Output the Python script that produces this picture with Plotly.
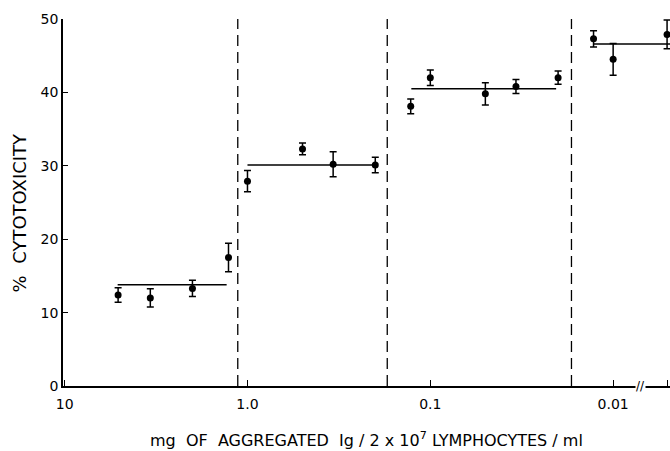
import math
import plotly.graph_objects as go

# ---- data ----
ZERO_POS = 0.00507  # position used for the "0" (no Ig) control on the broken axis

g1_conc = [5.1, 3.4, 2.0, 1.27]
g1_pct = [12.4, 12.0, 13.3, 17.5]
g1_err = [1.0, 1.25, 1.1, 1.95]

g2_conc = [1.0, 0.5, 0.34, 0.2]
g2_pct = [27.9, 32.3, 30.2, 30.1]
g2_err = [1.45, 0.8, 1.7, 1.05]

g3_conc = [0.128, 0.1, 0.05, 0.034, 0.02]
g3_pct = [38.1, 42.0, 39.8, 40.8, 42.0]
g3_err = [1.0, 1.05, 1.5, 0.95, 0.9]

g4_conc = [0.0128, 0.01, ZERO_POS]
g4_pct = [47.3, 44.5, 47.9]
g4_err = [1.1, 2.15, 1.95]

mean_pct = [13.8, 30.1, 40.5, 46.6]
mean_from = [5.13, 1.0, 0.127, 0.0128]
mean_to = [1.30, 0.199, 0.0205, 0.004]

dividers = [1.13, 0.172, 0.0169]

x_tickvals = [10, 1, 0.1, 0.01, ZERO_POS]
x_ticktext = ["10", "1.0", "0.1", "0.01", "0"]
y_tickvals = [0, 10, 20, 30, 40, 50]
BREAK_POS = 0.0071

FONT = "DejaVu Sans"

fig = go.Figure()

for c, p, e in [(g1_conc, g1_pct, g1_err), (g2_conc, g2_pct, g2_err),
                (g3_conc, g3_pct, g3_err), (g4_conc, g4_pct, g4_err)]:
    fig.add_trace(go.Scatter(
        x=c, y=p, mode="markers",
        marker=dict(color="black", size=7),
        error_y=dict(type="data", array=e, visible=True, color="black",
                     thickness=1.5, width=3.5),
        showlegend=False, cliponaxis=False))

for m, a, b in zip(mean_pct, mean_from, mean_to):
    fig.add_trace(go.Scatter(x=[a, b], y=[m, m], mode="lines",
                             line=dict(color="black", width=1.6),
                             showlegend=False))

for d in dividers:
    fig.add_shape(type="line", xref="x", yref="y", x0=d, x1=d, y0=0, y1=50,
                  line=dict(color="black", width=1.3, dash="11px,6px"))

fig.add_annotation(x=math.log10(BREAK_POS), y=0, xref="x", yref="y", text="//",
                   showarrow=False, font=dict(family=FONT, size=12, color="black"),
                   bgcolor="white", borderpad=0)

fig.add_annotation(x=0.5008, y=-0.147, xref="paper", yref="paper",
                   xanchor="center", yanchor="middle", showarrow=False,
                   text="mg  OF  AGGREGATED  Ig / 2 x 10<sup>7</sup> LYMPHOCYTES / ml",
                   font=dict(family=FONT, size=16, color="black"))
fig.add_annotation(x=-0.0725, y=0.473, xref="paper", yref="paper",
                   xanchor="center", yanchor="middle", showarrow=False,
                   textangle=-90, text="%  CYTOTOXICITY",
                   font=dict(family=FONT, size=18, color="black"))

fig.update_layout(
    width=670, height=451,
    margin=dict(l=63, r=0, t=19, b=65, autoexpand=False),
    paper_bgcolor="white", plot_bgcolor="white",
    font=dict(family=FONT, color="black"),
    xaxis=dict(type="log", range=[1.009, -2.311], showgrid=False, zeroline=False,
               showline=True, linecolor="black", linewidth=1.5, automargin=False,
               ticks="inside", ticklen=6, tickwidth=1.3, tickcolor="black",
               tickvals=x_tickvals, ticktext=x_ticktext, ticklabelstandoff=4,
               tickfont=dict(size=14, family=FONT)),
    yaxis=dict(range=[0, 50], showgrid=False, zeroline=False,
               showline=True, linecolor="black", linewidth=1.5, automargin=False,
               ticks="inside", ticklen=5, tickwidth=1.3, tickcolor="black",
               tickvals=y_tickvals, tickfont=dict(size=14, family=FONT)),
)

fig.write_html("out.html", config={"displayModeBar": False},
               post_script="document.body.style.margin='0';")
